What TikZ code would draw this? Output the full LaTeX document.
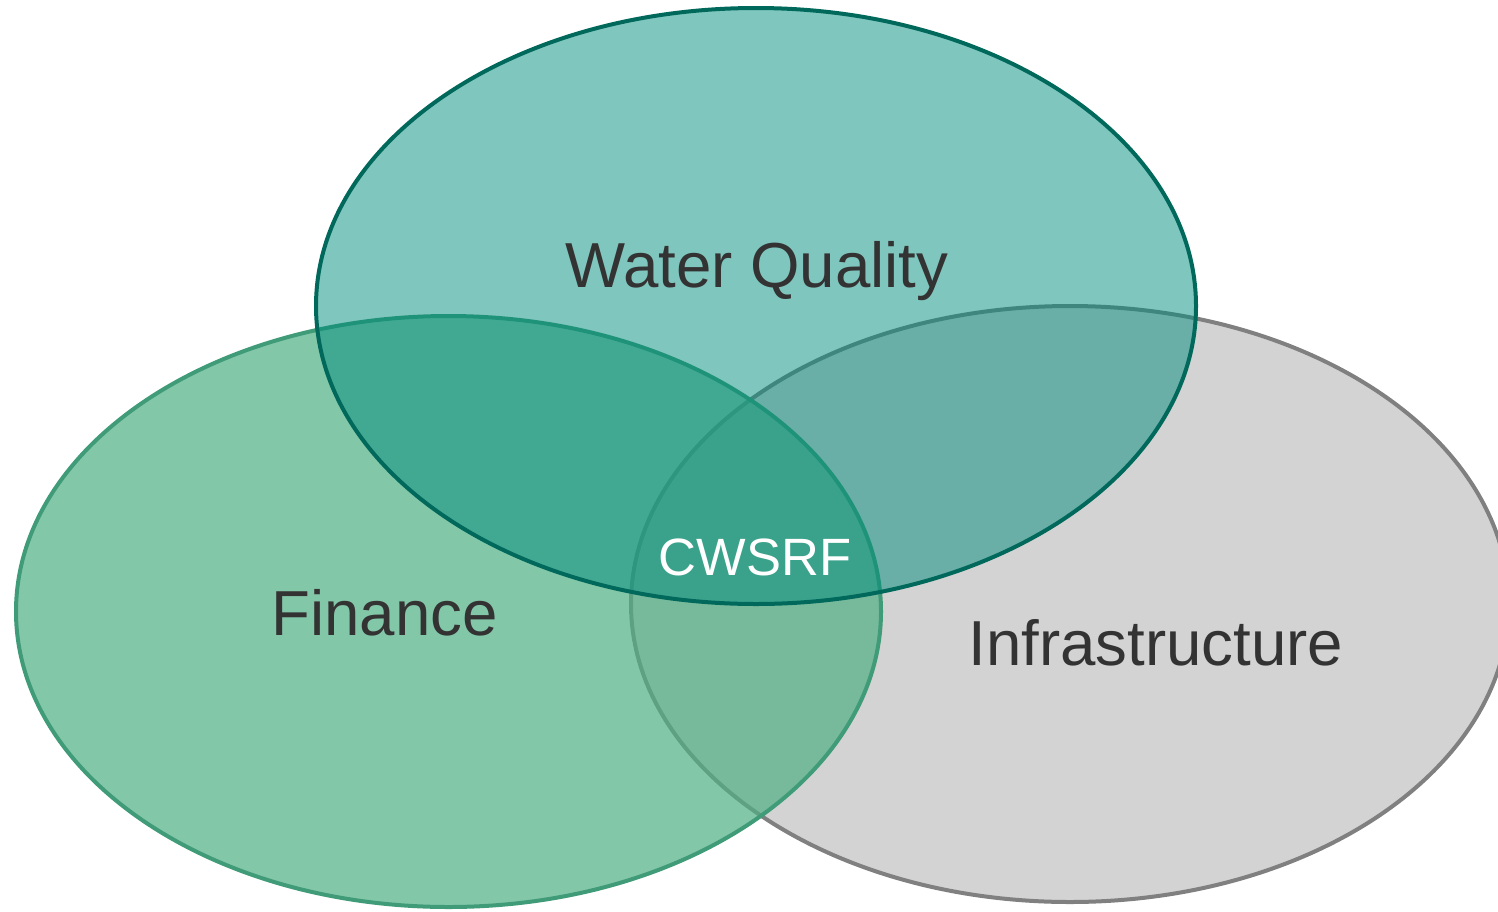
\documentclass[tikz,border=0pt]{standalone}
\usepackage{fontspec}
\setmainfont{Liberation Sans}
\usetikzlibrary{shapes.geometric}
\definecolor{wqfill}{RGB}{0,141,125}
\definecolor{wqline}{RGB}{0,105,92}
\definecolor{finfill}{RGB}{79,175,132}
\definecolor{finline}{RGB}{64,155,120}
\definecolor{inffill}{RGB}{211,211,211}
\definecolor{infline}{RGB}{128,128,128}
\definecolor{txt}{RGB}{51,51,51}
\begin{document}
\begin{tikzpicture}[x=1pt,y=-1pt,
  setel/.style={ellipse, inner sep=0pt, outer sep=0pt, line width=4pt},
  biglabel/.style={anchor=base, text=txt, inner sep=0pt, font=\fontsize{63.6}{70}\selectfont},
  midlabel/.style={anchor=base, text=white, inner sep=0pt, font=\fontsize{52.5}{60}\selectfont}
]
\useasboundingbox (0,0) rectangle (1498,911);
\clip (0,0) rectangle (1498,911);
\node[setel, minimum width=878pt, minimum height=596pt, fill=inffill, draw=infline] (infra) at (1070,604) {};
\node[setel, minimum width=865pt, minimum height=591pt, fill=finfill, fill opacity=0.7, draw=finline] (fin) at (448.5,611.5) {};
\node[setel, minimum width=880pt, minimum height=596pt, fill=wqfill, fill opacity=0.5, draw=wqline] (wq) at (756,306) {};
\node[biglabel] (wqlabel) at (757,287) {Water Quality};
\node[biglabel] (finlabel) at (384.5,635) {Finance};
\node[biglabel] (inflabel) at (1156,665) {Infrastructure};
\node[midlabel] (core) at (755,575) {CWSRF};
\end{tikzpicture}
\end{document}
